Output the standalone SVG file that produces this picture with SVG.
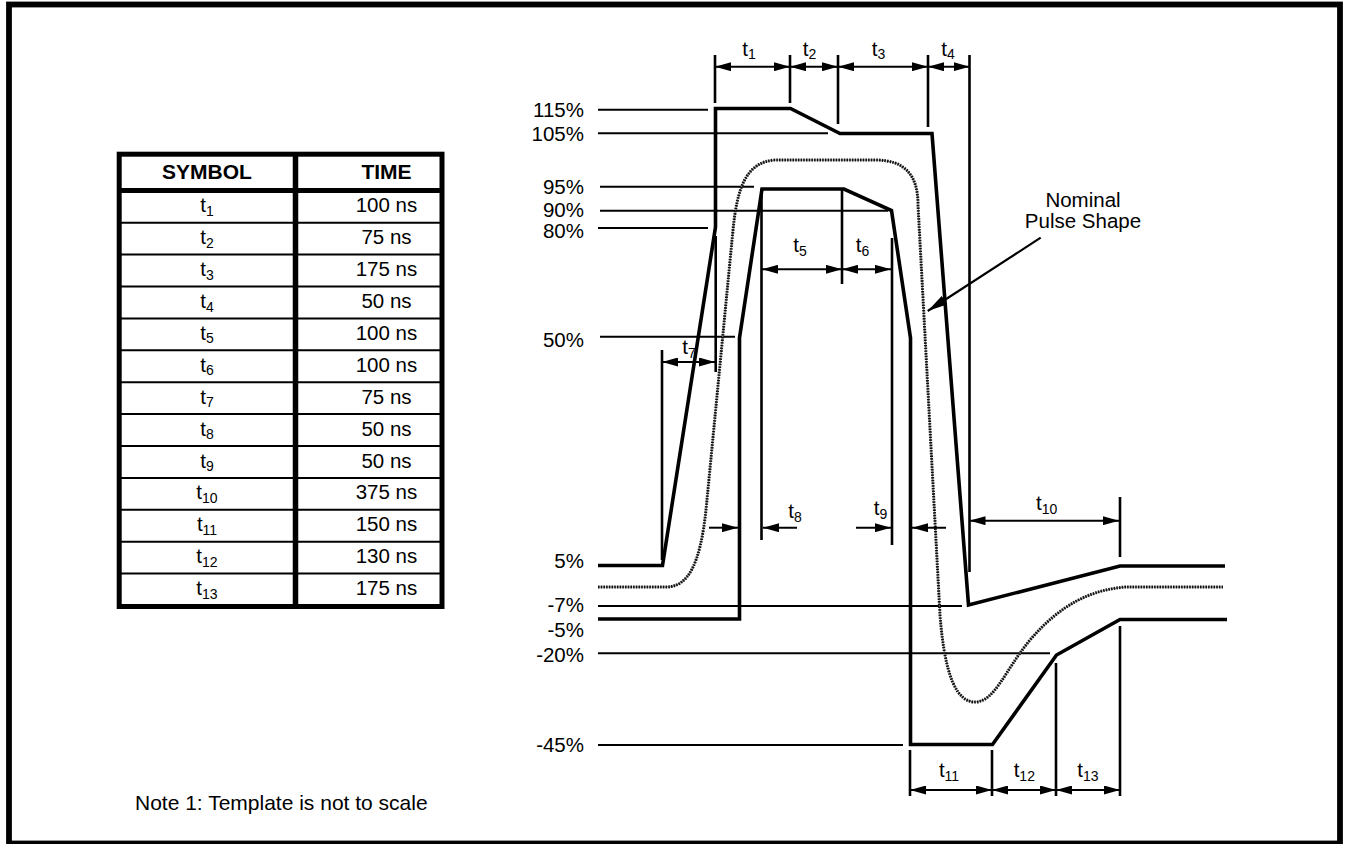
<svg xmlns="http://www.w3.org/2000/svg" width="1346" height="844" viewBox="0 0 1346 844">
<style>
text{font-family:"Liberation Sans",Arial,sans-serif;font-size:20.5px;fill:#000}
.b{font-weight:bold;font-size:21px}
.m{text-anchor:middle}
.r{text-anchor:end}
.s{font-size:14px}
.thick{fill:none;stroke:#000;stroke-width:3.6;stroke-linejoin:miter}
.lvl{fill:none;stroke:#000;stroke-width:2}
.tick{fill:none;stroke:#000;stroke-width:2.6}
.dim{fill:none;stroke:#000;stroke-width:2;marker-start:url(#ah);marker-end:url(#ah)}
.one{fill:none;stroke:#000;stroke-width:2;marker-end:url(#ah)}
.row{stroke:#000;stroke-width:2}
</style>
<defs>
<marker id="ah" viewBox="0 0 16 9" refX="16" refY="4.5" markerWidth="16" markerHeight="9" markerUnits="userSpaceOnUse" orient="auto-start-reverse"><path d="M0,0 L16,4.5 L0,9 z" fill="#000"/></marker>
<marker id="ah2" viewBox="0 0 20 10" refX="20" refY="5" markerWidth="20" markerHeight="10" markerUnits="userSpaceOnUse" orient="auto"><path d="M0,0 L20,5 L0,10 z" fill="#000"/></marker>
</defs>
<rect id="frame" x="9" y="4.5" width="1331" height="839" fill="#fff" stroke="#000" stroke-width="5.8"/>

<g id="table">
<rect x="119.2" y="154.2" width="322.8" height="452.3" fill="none" stroke="#000" stroke-width="5"/>
<line x1="119" y1="190.5" x2="442" y2="190.5" stroke="#000" stroke-width="5"/>
<line x1="295.5" y1="154" x2="295.5" y2="606.5" stroke="#000" stroke-width="5.5"/>
<g class="row">
<line x1="119" y1="222.7" x2="442" y2="222.7"/>
<line x1="119" y1="254.6" x2="442" y2="254.6"/>
<line x1="119" y1="286.5" x2="442" y2="286.5"/>
<line x1="119" y1="318.4" x2="442" y2="318.4"/>
<line x1="119" y1="350.3" x2="442" y2="350.3"/>
<line x1="119" y1="382.2" x2="442" y2="382.2"/>
<line x1="119" y1="414.1" x2="442" y2="414.1"/>
<line x1="119" y1="446" x2="442" y2="446"/>
<line x1="119" y1="477.9" x2="442" y2="477.9"/>
<line x1="119" y1="509.8" x2="442" y2="509.8"/>
<line x1="119" y1="541.7" x2="442" y2="541.7"/>
<line x1="119" y1="573.6" x2="442" y2="573.6"/>
</g>
<text class="b m" x="207" y="179.3">SYMBOL</text>
<text class="b m" x="386.5" y="179.3">TIME</text>
<text class="m" x="207" y="212.3">t<tspan class="s" dy="3.5">1</tspan></text>
<text class="m" x="207" y="244.2">t<tspan class="s" dy="3.5">2</tspan></text>
<text class="m" x="207" y="276.1">t<tspan class="s" dy="3.5">3</tspan></text>
<text class="m" x="207" y="308">t<tspan class="s" dy="3.5">4</tspan></text>
<text class="m" x="207" y="339.9">t<tspan class="s" dy="3.5">5</tspan></text>
<text class="m" x="207" y="371.8">t<tspan class="s" dy="3.5">6</tspan></text>
<text class="m" x="207" y="403.7">t<tspan class="s" dy="3.5">7</tspan></text>
<text class="m" x="207" y="435.6">t<tspan class="s" dy="3.5">8</tspan></text>
<text class="m" x="207" y="467.5">t<tspan class="s" dy="3.5">9</tspan></text>
<text class="m" x="207" y="499.4">t<tspan class="s" dy="3.5">10</tspan></text>
<text class="m" x="207" y="531.3">t<tspan class="s" dy="3.5">11</tspan></text>
<text class="m" x="207" y="563.2">t<tspan class="s" dy="3.5">12</tspan></text>
<text class="m" x="207" y="595.1">t<tspan class="s" dy="3.5">13</tspan></text>
<text class="m" x="386.5" y="212.3">100 ns</text>
<text class="m" x="386.5" y="244.2">75 ns</text>
<text class="m" x="386.5" y="276.1">175 ns</text>
<text class="m" x="386.5" y="308">50 ns</text>
<text class="m" x="386.5" y="339.9">100 ns</text>
<text class="m" x="386.5" y="371.8">100 ns</text>
<text class="m" x="386.5" y="403.7">75 ns</text>
<text class="m" x="386.5" y="435.6">50 ns</text>
<text class="m" x="386.5" y="467.5">50 ns</text>
<text class="m" x="386.5" y="499.4">375 ns</text>
<text class="m" x="386.5" y="531.3">150 ns</text>
<text class="m" x="386.5" y="563.2">130 ns</text>
<text class="m" x="386.5" y="595.1">175 ns</text>
</g>

<g id="levels">
<text class="r" x="584" y="117">115%</text>
<text class="r" x="584" y="141">105%</text>
<text class="r" x="584" y="193.5">95%</text>
<text class="r" x="584" y="216.6">90%</text>
<text class="r" x="584" y="238.2">80%</text>
<text class="r" x="584" y="347">50%</text>
<text class="r" x="584" y="568.3">5%</text>
<text class="r" x="584" y="611.7">-7%</text>
<text class="r" x="584" y="637.3">-5%</text>
<text class="r" x="584" y="661.7">-20%</text>
<text class="r" x="584" y="752.3">-45%</text>
<g class="lvl">
<line x1="598" y1="109.7" x2="708" y2="109.7"/>
<line x1="598" y1="133.3" x2="828" y2="133.3"/>
<line x1="600" y1="186.7" x2="754" y2="186.7"/>
<line x1="600" y1="210.7" x2="888" y2="210.7"/>
<line x1="598" y1="228" x2="708" y2="228"/>
<line x1="600" y1="336.7" x2="735" y2="336.7"/>
<line x1="598" y1="606" x2="962" y2="606"/>
<line x1="598" y1="653.3" x2="1050" y2="653.3"/>
<line x1="598" y1="745" x2="903" y2="745"/>
</g>
</g>

<g id="nominal-pulse">
<path d="M598,587 L666,587 C688,587 700,565 706,510 L733,230 C737,190 745,162 775,160 L875,160 C905,160 918,175 918,205 L940,615 C945,680 958,702 975,702 C995,702 1005,670 1030,640 C1060,605 1090,590 1125,587 L1223,587" fill="none" stroke="#999" stroke-width="1.2"/>
<path d="M598,587 L666,587 C688,587 700,565 706,510 L733,230 C737,190 745,162 775,160 L875,160 C905,160 918,175 918,205 L940,615 C945,680 958,702 975,702 C995,702 1005,670 1030,640 C1060,605 1090,590 1125,587 L1223,587" fill="none" stroke="#111" stroke-width="3" stroke-dasharray="1.6 1.1"/>
</g>

<g id="upper-template">
<polyline class="thick" points="598,565.5 662.5,565.5 715.5,227 715.5,108.5 790.5,108.5 840,133.5 932,133.5 968.5,605 1120,566 1225,566"/>
</g>
<g id="lower-template">
<polyline class="thick" points="598,619 739.5,619 739.5,338 762,189 844,189 891.5,210.5 910.5,338 910.5,744.5 992.5,744.5 1056.5,655 1120,619.5 1227,619.5"/>
</g>

<g id="connectors">
<g class="tick">
<line x1="715" y1="55" x2="715" y2="103"/>
<line x1="790" y1="55" x2="790" y2="103"/>
<line x1="838" y1="55" x2="838" y2="124"/>
<line x1="928" y1="55" x2="928" y2="127"/>
<line x1="969.5" y1="55" x2="969.5" y2="572"/>
<line x1="662" y1="350" x2="662" y2="560"/>
<line x1="715.7" y1="236" x2="715.7" y2="372"/>
<line x1="761.5" y1="189" x2="761.5" y2="540"/>
<line x1="842" y1="189" x2="842" y2="284"/>
<line x1="892" y1="238" x2="892" y2="545"/>
<line x1="1120" y1="497" x2="1120" y2="557"/>
<line x1="910" y1="750" x2="910" y2="796"/>
<line x1="992" y1="750" x2="992" y2="796"/>
<line x1="1056" y1="663" x2="1056" y2="796"/>
<line x1="1120" y1="626" x2="1120" y2="796"/>
</g>
<line class="dim" x1="715" y1="66.7" x2="790" y2="66.7"/>
<line class="dim" x1="790" y1="66.7" x2="838" y2="66.7"/>
<line class="dim" x1="838" y1="66.7" x2="928" y2="66.7"/>
<line class="dim" x1="928" y1="66.7" x2="969.5" y2="66.7"/>
<line class="dim" x1="762" y1="269.3" x2="842" y2="269.3"/>
<line class="dim" x1="842" y1="269.3" x2="891" y2="269.3"/>
<line class="dim" x1="662" y1="362" x2="715" y2="362"/>
<line class="dim" x1="969.5" y1="520.7" x2="1119" y2="520.7"/>
<line class="dim" x1="910" y1="790" x2="992" y2="790"/>
<line class="dim" x1="992" y1="790" x2="1056" y2="790"/>
<line class="dim" x1="1056" y1="790" x2="1120" y2="790"/>
<line class="one" x1="709" y1="527.7" x2="738" y2="527.7"/>
<line class="one" x1="797" y1="527.7" x2="763" y2="527.7"/>
<line class="one" x1="856" y1="527.7" x2="891" y2="527.7"/>
<line class="one" x1="946" y1="527.7" x2="912" y2="527.7"/>
<line x1="1040.7" y1="237.7" x2="927.7" y2="311" stroke="#000" stroke-width="2.2" marker-end="url(#ah2)"/>
</g>

<g id="dim-labels">
<text class="m" x="749" y="56">t<tspan class="s" dy="3">1</tspan></text>
<text class="m" x="809.5" y="56">t<tspan class="s" dy="3">2</tspan></text>
<text class="m" x="878.5" y="56">t<tspan class="s" dy="3">3</tspan></text>
<text class="m" x="948" y="56">t<tspan class="s" dy="3">4</tspan></text>
<text class="m" x="800" y="252">t<tspan class="s" dy="4">5</tspan></text>
<text class="m" x="862.5" y="252">t<tspan class="s" dy="4">6</tspan></text>
<text class="m" x="689" y="354">t<tspan class="s" dy="4">7</tspan></text>
<text class="m" x="795" y="517.7">t<tspan class="s" dy="4">8</tspan></text>
<text class="m" x="880.5" y="515">t<tspan class="s" dy="4">9</tspan></text>
<text class="m" x="1046.7" y="510">t<tspan class="s" dy="4">10</tspan></text>
<text class="m" x="949" y="776.7">t<tspan class="s" dy="4">11</tspan></text>
<text class="m" x="1024.3" y="776.7">t<tspan class="s" dy="4">12</tspan></text>
<text class="m" x="1088" y="776.7">t<tspan class="s" dy="4">13</tspan></text>
</g>

<g id="nominal-label">
<text class="m" x="1083" y="206.5">Nominal</text>
<text class="m" x="1083" y="228">Pulse Shape</text>
</g>

<text id="note" x="135" y="810" style="font-size:21px">Note 1: Template is not to scale</text>
</svg>
